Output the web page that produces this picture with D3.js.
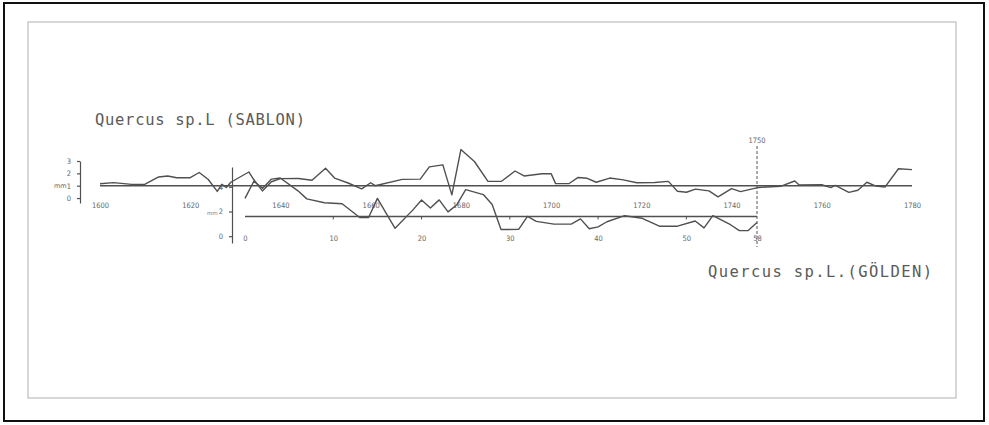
<!DOCTYPE html>
<html>
<head>
<meta charset="utf-8">
<script src="https://cdn.jsdelivr.net/npm/d3@7"></script>
<style>
    body { margin: 0; background: #fff; }
    svg { display: block; }
    .tick text { fill: #666; font-family: "DejaVu Sans Condensed", "DejaVu Sans", sans-serif; }
    .title { fill: #5a5a5a; font-family: "DejaVu Sans Mono", monospace; font-size: 15.5px; }
</style>
</head>
<body>
<div class="main"></div>
<script>
const sablonYear = [1600, 1603, 1607, 1610, 1613, 1615, 1617, 1620, 1622, 1624, 1626, 1627, 1628, 1629,
    1633, 1634, 1636, 1638, 1640, 1644, 1647, 1650, 1652, 1655, 1658, 1660, 1661, 1667, 1671, 1673,
    1676, 1678, 1680, 1683, 1686, 1689, 1692, 1694, 1698, 1700, 1701, 1704, 1706, 1708, 1710, 1713,
    1716, 1719, 1723, 1726, 1728, 1730, 1732, 1735, 1737, 1740, 1742, 1746, 1751, 1754, 1755, 1760,
    1762, 1763, 1766, 1768, 1770, 1772, 1774, 1777, 1780];
const sablonWidth = [1.16, 1.25, 1.11, 1.12, 1.71, 1.79, 1.64, 1.65, 2.07, 1.50, 0.54, 1.11, 0.86, 1.28,
    2.11, 1.54, 0.58, 1.32, 1.57, 1.58, 1.44, 2.42, 1.62, 1.22, 0.75, 1.24, 1.00, 1.51, 1.53, 2.52,
    2.69, 0.26, 3.93, 2.96, 1.35, 1.36, 2.19, 1.79, 1.97, 1.98, 1.17, 1.18, 1.67, 1.60, 1.28, 1.62,
    1.47, 1.24, 1.26, 1.35, 0.55, 0.47, 0.72, 0.58, 0.10, 0.76, 0.52, 0.86, 0.96, 1.38, 1.06, 1.08,
    0.85, 1.02, 0.46, 0.63, 1.28, 0.97, 0.89, 2.37, 2.30];

// Gölden sample, by ring number
const goldenRing = [0, 1, 2, 3, 4, 6, 7, 9, 11, 13, 14, 15, 17, 19, 20, 21, 22, 23, 24, 25, 27, 28, 29,
    31, 32, 33, 35, 37, 38, 39, 40, 41, 43, 45, 47, 49, 51, 52, 53, 55, 56, 57, 58];
const goldenWidth = [3.06, 4.45, 3.88, 4.62, 4.71, 3.67, 3.02, 2.71, 2.63, 1.51, 1.51, 3.06, 0.64, 2.11,
    2.93, 2.28, 2.94, 1.97, 2.55, 3.77, 3.37, 2.56, 0.54, 0.55, 1.60, 1.20, 0.98, 0.99, 1.40, 0.60,
    0.76, 1.17, 1.66, 1.45, 0.80, 0.81, 1.23, 0.67, 1.66, 0.93, 0.45, 0.46, 1.11];

const sablonTicks = [1600, 1620, 1640, 1660, 1680, 1700, 1720, 1740, 1760, 1780];
const goldenTicks = [0, 10, 20, 30, 40, 50, 58];
const mmTicks = [0, 1, 2, 3];
const goldenMmTicks = [0, 2, 4];
const sablonMean = 1;
const goldenMean = 1.6;
const matchLabel = "1750";

const w = 989;
const h = 425;
const ink = "#505050";

const svg = d3.select(".main").append("svg").attr("width", w).attr("height", h);

// outer border and the scanned sheet's frame
svg.append("rect").attr("x", 4).attr("y", 3).attr("width", 980).attr("height", 418)
    .attr("fill", "none").attr("stroke", "#111").attr("stroke-width", 2);
svg.append("rect").attr("x", 28).attr("y", 22).attr("width", 928).attr("height", 376)
    .attr("fill", "none").attr("stroke", "#b0b0b0").attr("stroke-width", 1);

// scales
const xYear = d3.scaleLinear().domain([1600, 1780]).range([100, 912]);
const xRing = d3.scaleLinear().domain([0, 58]).range([245, 757]);
const yTop = d3.scaleLinear().domain([-0.4, 3]).range([203, 161]);
const yLow = d3.scaleLinear().domain([-0.55, 5.6]).range([243, 167]);

// y axes
const yTopAxis = d3.axisLeft(yTop).tickValues(mmTicks).tickFormat(d3.format("d"))
    .tickSize(3).tickSizeOuter(0);
const gy1 = svg.append("g").attr("transform", "translate(80,0)").call(yTopAxis);
const yLowAxis = d3.axisLeft(yLow).tickValues(goldenMmTicks).tickFormat(d3.format("d"))
    .tickSize(3).tickSizeOuter(0);
const gy2 = svg.append("g").attr("transform", "translate(232,0)").call(yLowAxis);
[gy1, gy2].forEach((g) => {
    g.selectAll("path, line").attr("stroke", ink).attr("stroke-width", 1.2);
    g.selectAll("text").attr("font-size", 7.5).attr("dx", -3);
});
svg.append("text").text("mm").attr("x", 54).attr("y", yTop(1) + 2)
    .attr("font-size", 6.5).attr("fill", "#666").attr("font-family", "DejaVu Sans");
svg.append("text").text("mm").attr("x", 207).attr("y", 215)
    .attr("font-size", 5.5).attr("fill", "#777").attr("font-family", "DejaVu Sans");

// baselines (mean width)
svg.append("line")
    .attr("x1", xYear(1600)).attr("x2", xYear(1780))
    .attr("y1", yTop(sablonMean)).attr("y2", yTop(sablonMean))
    .attr("stroke", ink).attr("stroke-width", 1.6);
svg.append("line")
    .attr("x1", xRing(0)).attr("x2", xRing(58))
    .attr("y1", yLow(goldenMean)).attr("y2", yLow(goldenMean))
    .attr("stroke", ink).attr("stroke-width", 1.6);

// x axes as label rows
const xTopAxis = d3.axisBottom(xYear).tickValues(sablonTicks).tickFormat(d3.format("d")).tickSize(0);
const gx1 = svg.append("g").attr("transform", "translate(0,200)").call(xTopAxis);
const xLowAxis = d3.axisBottom(xRing).tickValues(goldenTicks).tickSize(0);
const gx2 = svg.append("g").attr("transform", "translate(0,233)").call(xLowAxis);
[gx1, gx2].forEach((g) => {
    g.select(".domain").remove();
    g.selectAll("text").attr("font-size", 7.5);
});

// small ticks on the lower mean line
svg.selectAll(".ringTick")
    .data(goldenTicks.slice(1, -1))
    .enter()
    .append("line")
    .attr("x1", (d) => xRing(d)).attr("x2", (d) => xRing(d))
    .attr("y1", yLow(goldenMean)).attr("y2", yLow(goldenMean) + 3)
    .attr("stroke", ink).attr("stroke-width", 1);

// dashed matching line at the last ring
const xm = xRing(58);
svg.append("line")
    .attr("x1", xm).attr("x2", xm).attr("y1", 146).attr("y2", 247)
    .attr("stroke", "#555").attr("stroke-width", 1).attr("stroke-dasharray", "3,2");
svg.append("text").text(matchLabel).attr("x", xm).attr("y", 143)
    .attr("text-anchor", "middle").attr("font-size", 7.5).attr("fill", "#666")
    .attr("font-family", "DejaVu Sans Condensed, DejaVu Sans");

// curves
const sablonLine = d3.line()
    .x((d, i) => xYear(sablonYear[i]))
    .y((d) => yTop(d));
svg.append("path").datum(sablonWidth)
    .attr("d", sablonLine)
    .attr("fill", "none").attr("stroke", ink).attr("stroke-width", 1.4)
    .attr("stroke-linejoin", "round");

const goldenLine = d3.line()
    .x((d, i) => xRing(goldenRing[i]))
    .y((d) => yLow(d));
svg.append("path").datum(goldenWidth)
    .attr("d", goldenLine)
    .attr("fill", "none").attr("stroke", ink).attr("stroke-width", 1.4)
    .attr("stroke-linejoin", "round");

// species titles
svg.append("text").attr("class", "title").attr("x", 95).attr("y", 125)
    .attr("letter-spacing", 0.7)
    .text("Quercus  sp.L (SABLON)");
svg.append("text").attr("class", "title").attr("x", 708).attr("y", 277)
    .attr("letter-spacing", 1.4)
    .text("Quercus  sp.L.(GÖLDEN)");
</script>
</body>
</html>
